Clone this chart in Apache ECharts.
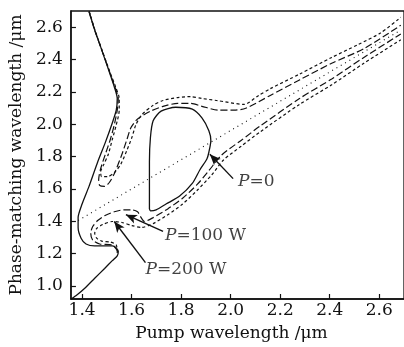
<!DOCTYPE html>
<html><head><meta charset="utf-8">
<script src="https://cdn.jsdelivr.net/npm/echarts@6/dist/echarts.min.js"></script>
<style>html,body{margin:0;padding:0;background:#fff}#c{width:404px;height:347px}</style>
</head><body><div id="c"></div>
<script>
// tick labels
const xTicks = [1.4, 1.6, 1.8, 2.0, 2.2, 2.4, 2.6];
const yTicks = [1.0, 1.2, 1.4, 1.6, 1.8, 2.0, 2.2, 2.4, 2.6];

// P = 0 (solid): outer branch
const p0Branch = [[1.428,2.697],[1.451,2.582],[1.479,2.461],[1.506,2.341],[1.530,2.232],[1.542,2.159],[1.538,2.087],[1.522,2.008],[1.494,1.888],[1.463,1.767],[1.428,1.616],[1.400,1.507],[1.384,1.423],[1.384,1.362],[1.396,1.296],[1.416,1.260],[1.451,1.248],[1.522,1.248],[1.538,1.236],[1.546,1.211],[1.542,1.187],[1.522,1.157],[1.491,1.109],[1.451,1.048],[1.412,0.988],[1.380,0.946],[1.357,0.921]];
// P = 0 (solid): closed loop
const p0Loop = [[1.672,1.477],[1.672,1.616],[1.672,1.767],[1.676,1.918],[1.687,2.021],[1.719,2.081],[1.778,2.105],[1.845,2.093],[1.884,2.039],[1.912,1.960],[1.920,1.900],[1.912,1.827],[1.904,1.785],[1.876,1.719],[1.845,1.634],[1.794,1.556],[1.739,1.507],[1.699,1.471],[1.676,1.465],[1.672,1.477]];
// P = 100 W (long dash)
const p100Upper = [[1.428,2.697],[1.451,2.582],[1.479,2.461],[1.507,2.341],[1.532,2.232],[1.546,2.159],[1.542,2.087],[1.530,1.996],[1.514,1.906],[1.494,1.815],[1.475,1.725],[1.467,1.658],[1.471,1.622],[1.491,1.616],[1.510,1.640],[1.530,1.694],[1.561,1.815],[1.581,1.906],[1.597,1.978],[1.620,2.027],[1.648,2.057],[1.676,2.081],[1.727,2.111],[1.786,2.129],[1.837,2.129],[1.884,2.111],[1.951,2.087],[2.014,2.087],[2.061,2.099],[2.160,2.178],[2.278,2.274],[2.408,2.377],[2.538,2.467],[2.687,2.612]];
const p100Lower = [[1.546,1.211],[1.522,1.254],[1.471,1.260],[1.443,1.284],[1.435,1.326],[1.443,1.368],[1.463,1.405],[1.491,1.435],[1.530,1.459],[1.569,1.471],[1.601,1.471],[1.624,1.459],[1.636,1.429],[1.652,1.399],[1.687,1.423],[1.746,1.477],[1.806,1.543],[1.865,1.628],[1.912,1.713],[1.963,1.809],[2.042,1.900],[2.120,1.990],[2.278,2.159],[2.408,2.280],[2.538,2.413],[2.687,2.558]];
// P = 200 W (short dash)
const p200Upper = [[1.429,2.697],[1.452,2.582],[1.480,2.461],[1.508,2.341],[1.535,2.232],[1.550,2.159],[1.550,2.087],[1.538,1.996],[1.522,1.906],[1.506,1.815],[1.487,1.749],[1.475,1.707],[1.479,1.676],[1.502,1.676],[1.530,1.700],[1.557,1.755],[1.581,1.839],[1.601,1.918],[1.617,1.996],[1.640,2.057],[1.687,2.117],[1.727,2.147],[1.786,2.165],[1.837,2.171],[1.884,2.159],[1.943,2.147],[2.054,2.123],[2.113,2.178],[2.160,2.220],[2.278,2.310],[2.408,2.413],[2.514,2.492],[2.605,2.564],[2.687,2.661]];
const p200Lower = [[1.542,1.205],[1.538,1.254],[1.514,1.272],[1.479,1.278],[1.459,1.296],[1.451,1.326],[1.459,1.356],[1.483,1.380],[1.522,1.399],[1.561,1.393],[1.601,1.374],[1.640,1.362],[1.687,1.386],[1.746,1.441],[1.806,1.507],[1.865,1.592],[1.924,1.688],[1.971,1.779],[2.042,1.864],[2.120,1.954],[2.278,2.123],[2.408,2.244],[2.538,2.377],[2.687,2.522]];
// dotted reference line
const diagonal = [[1.384,1.405],[2.687,2.582]];

// annotations: text anchor (left-middle) and arrow tail -> head
const labelTexts = ['{n|=0}', '{n|=100 W}', '{n|=200 W}'];
const labelPos = [[2.030,1.646],[1.735,1.314],[1.656,1.103]];
const arrowTail = [[2.010,1.664],[1.727,1.338],[1.656,1.145]];
const arrowHead = [[1.916,1.815],[1.577,1.441],[1.530,1.399]];

const FONT = 'DejaVu Serif';
const INK = '#111';
const chart = echarts.init(document.getElementById('c'), null, {renderer: 'canvas'});

function curve(data, type, width) {
  return {
    type: 'line', data: data, showSymbol: false, symbol: 'none', smooth: 0.25,
    animation: false, silent: true, clip: true,
    lineStyle: {color: INK, width: width, type: type}
  };
}

const series = [
  curve(p0Branch, 'solid', 1.3),
  curve(p0Loop, 'solid', 1.3),
  curve(p100Upper, [7, 3], 1.2),
  curve(p100Lower, [7, 3], 1.2),
  curve(p200Upper, [3, 2.5], 1.2),
  curve(p200Lower, [3, 2.5], 1.2),
  Object.assign(curve(diagonal, [1, 4], 1.1), {smooth: false}),
  {
    type: 'scatter', animation: false, silent: true, symbolSize: 0,
    data: labelPos.map((p, i) => ({value: p, label: {formatter: '{i|P}' + labelTexts[i]}})),
    label: {
      show: true, position: 'right', distance: 0,
      rich: {
        i: {fontFamily: FONT, fontStyle: 'italic', fontSize: 17, color: INK},
        n: {fontFamily: FONT, fontSize: 17, color: INK}
      }
    },
    markLine: {
      silent: true, animation: false, symbol: ['none', 'arrow'], symbolSize: [7, 11],
      label: {show: false},
      lineStyle: {color: INK, width: 1.4, type: 'solid'},
      data: arrowTail.map((t, i) => [{coord: t}, {coord: arrowHead[i]}])
    }
  }
];

chart.setOption({
  animation: false,
  backgroundColor: '#fff',
  grid: {left: 66, right: -3, top: 11, bottom: 42, show: true, borderColor: INK, borderWidth: 1.3},
  xAxis: {
    type: 'value', min: 1.355, max: 2.7,
    name: 'Pump wavelength /μm', nameLocation: 'middle', nameGap: 26,
    nameTextStyle: {fontFamily: FONT, fontSize: 17, color: INK, padding: [0, 12, 0, 0]},
    axisLine: {show: true, lineStyle: {color: INK, width: 1.5}},
    axisTick: {show: true, inside: true, length: 5, customValues: xTicks, lineStyle: {color: INK, width: 1.2}},
    axisLabel: {customValues: xTicks, formatter: v => v.toFixed(1), fontFamily: FONT, fontSize: 17, color: INK, margin: 3},
    splitLine: {show: false}
  },
  yAxis: {
    type: 'value', min: 0.92, max: 2.7,
    name: 'Phase-matching wavelength /μm', nameLocation: 'middle', nameGap: 40,
    nameTextStyle: {fontFamily: FONT, fontSize: 17, color: INK},
    axisLine: {show: true, lineStyle: {color: INK, width: 1.5}},
    axisTick: {show: true, inside: true, length: 5, customValues: yTicks, lineStyle: {color: INK, width: 1.2}},
    axisLabel: {customValues: yTicks, formatter: v => v.toFixed(1), fontFamily: FONT, fontSize: 17, color: INK, margin: 8},
    splitLine: {show: false}
  },
  series: series
});
</script>
</body></html>
